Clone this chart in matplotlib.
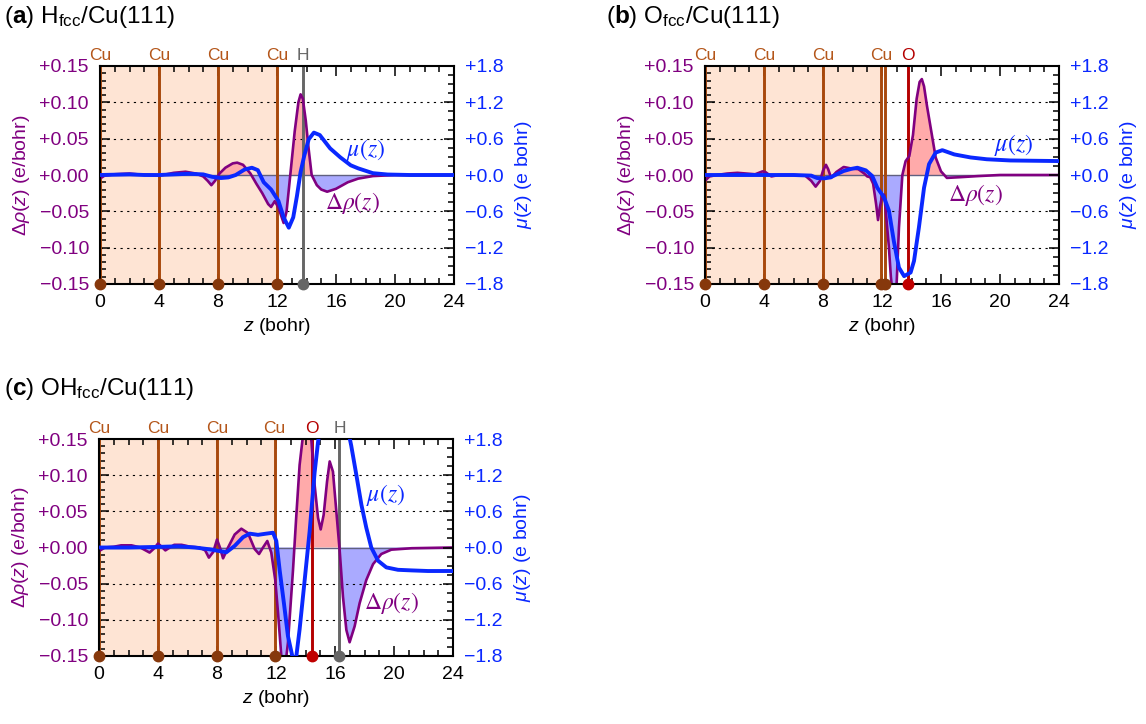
import matplotlib
matplotlib.use("Agg")
import matplotlib.pyplot as plt
import matplotlib.transforms as mtrans
from matplotlib.ticker import FixedLocator, MultipleLocator, FuncFormatter

plt.rcParams['font.family'] = ['Liberation Sans', 'DejaVu Sans']
plt.rcParams['mathtext.fontset'] = 'custom'
plt.rcParams['mathtext.rm'] = 'Liberation Sans'
plt.rcParams['mathtext.it'] = 'Liberation Sans:italic'
plt.rcParams['mathtext.bf'] = 'Liberation Sans:bold'
plt.rcParams['axes.unicode_minus'] = True

# ---- data ----
# (a) H_fcc/Cu(111)
zrho_a = [0, 0.3, 1, 2, 2.5, 3.5, 4, 4.5, 5, 5.8, 6.5, 7, 7.3, 7.55, 7.8, 8.1, 8.5, 9.0, 9.3, 9.7,
          10.2, 10.6, 11.0, 11.4, 11.6, 11.85, 12.1, 12.45, 12.65, 12.9, 13.2, 13.45, 13.6, 13.75,
          13.95, 14.15, 14.35, 14.7, 15.0, 15.4, 16.0, 16.8, 17.5, 18.5, 20, 24]
rho_a = [-0.005, -0.001, 0.001, 0.002, 0.001, 0.0, -0.001, 0.001, 0.003, 0.0045, 0.002, -0.002,
         -0.008, -0.014, -0.008, 0.002, 0.010, 0.016, 0.017, 0.014, 0.002, -0.012, -0.025, -0.040,
         -0.044, -0.036, -0.045, -0.066, -0.05, 0.0, 0.06, 0.100, 0.111, 0.105, 0.075, 0.035, 0.0,
         -0.014, -0.020, -0.023, -0.019, -0.010, -0.005, -0.0015, 0, 0]
zmu_a = [0, 1, 2, 3, 4, 5, 6, 7, 7.6, 8.2, 8.7, 9.2, 9.8, 10.3, 10.7, 11.1, 11.6, 12.1, 12.45, 12.8,
         13.1, 13.35, 13.6, 13.85, 14.15, 14.5, 14.9, 15.6, 16.3, 17.0, 17.5, 18.5, 19.5, 21, 24]
mu_a = [0, 0.005, 0.01, 0.0, 0.0, 0.01, 0.02, 0.01, -0.03, -0.05, -0.04, 0.0, 0.09, 0.12, 0.08,
        -0.12, -0.24, -0.43, -0.70, -0.87, -0.70, -0.35, 0.05, 0.32, 0.59, 0.70, 0.66, 0.44, 0.29,
        0.16, 0.11, 0.03, 0.008, 0, 0]
cu_a = [0, 4, 8, 12]
ads_a = [('H', 13.78)]

# (b) O_fcc/Cu(111)
zrho_b = [0, 0.3, 0.8, 1.5, 2.2, 2.8, 3.4, 3.9, 4.1, 4.5, 5.0, 6.0, 6.8, 7.2, 7.5, 7.8, 8.0, 8.2,
          8.35, 8.55, 8.9, 9.4, 9.9, 10.4, 10.8, 11.0, 11.2, 11.4, 11.6, 11.73, 11.85, 12.0, 12.15,
          12.3, 12.47, 12.6, 12.75, 12.95, 13.15, 13.38, 13.6, 13.85, 14.1, 14.35, 14.55, 14.7,
          14.85, 15.05, 15.3, 15.64, 16.0, 16.4, 17.3, 18.5, 20, 24]
rho_b = [-0.008, -0.002, 0.0, 0.002, 0.003, 0.002, 0.001, 0.005, 0.004, -0.002, 0.0, 0.0, -0.001,
         -0.008, -0.016, -0.008, 0.006, 0.014, 0.008, -0.004, 0.004, 0.011, 0.009, 0.008, 0.002,
         -0.002, -0.003, -0.012, -0.04, -0.062, -0.045, -0.03, -0.027, -0.06, -0.10, -0.14, -0.17,
         -0.17, -0.072, 0.0, 0.019, 0.026, 0.055, 0.105, 0.128, 0.132, 0.122, 0.095, 0.065, 0.024,
         0.005, -0.004, -0.003, -0.0015, 0, 0]
zmu_b = [0, 2, 4, 6, 7.2, 7.6, 8.1, 8.5, 9.0, 9.4, 9.9, 10.33, 10.9, 11.34, 11.68, 12.14, 12.47,
         12.8, 13.15, 13.5, 13.94, 14.17, 14.5, 14.85, 15.19, 15.64, 16.09, 16.9, 18.0, 19.1, 20.7, 24]
mu_b = [0, 0.0, 0.0, 0.0, -0.01, -0.05, -0.055, -0.04, 0.02, 0.066, 0.1, 0.12, 0.077, -0.017,
        -0.21, -0.37, -0.59, -1.09, -1.53, -1.67, -1.61, -1.42, -0.87, -0.21, 0.18, 0.37, 0.41,
        0.34, 0.29, 0.26, 0.24, 0.23]
cu_b = [0, 4, 8, 11.95, 12.2]
ads_b = [('O', 13.75)]

# (c) OH_fcc/Cu(111)
zrho_c = [0, 0.4, 1.0, 1.5, 2.2, 2.8, 3.43, 3.75, 4.0, 4.25, 4.5, 4.8, 5.1, 5.6, 6.2, 6.8, 7.2,
          7.45, 7.75, 8.0, 8.2, 8.41, 8.75, 9.2, 9.65, 10.1, 10.55, 10.85, 11.12, 11.41, 11.68,
          11.95, 12.14, 12.36, 12.59, 12.81, 13.15, 13.38, 13.6, 13.83, 14.06, 14.4, 14.62, 14.85,
          15.03, 15.23, 15.46, 15.64, 15.86, 16.09, 16.32, 16.54, 16.77, 16.99, 17.33, 17.67,
          18.12, 18.58, 19.14, 19.82, 21.2, 24]
rho_c = [-0.005, 0.0, 0.001, 0.003, 0.003, 0.0, -0.007, -0.001, 0.0055, 0.001, -0.004, 0.0, 0.0037,
         0.0037, 0.001, 0.0, -0.004, -0.014, -0.006, 0.011, 0.0, -0.015, 0.0, 0.018, 0.026, 0.02,
         -0.002, -0.009, 0.0, 0.009, -0.007, -0.045, -0.091, -0.15, -0.17, -0.132, -0.032, 0.045,
         0.114, 0.155, 0.17, 0.148, 0.086, 0.041, 0.025, 0.045, 0.091, 0.119, 0.105, 0.05, -0.005,
         -0.068, -0.114, -0.131, -0.109, -0.077, -0.045, -0.023, -0.009, -0.003, -0.001, 0]
zmu_c = [0, 2, 4, 5.4, 6.5, 7.5, 8.07, 8.63, 9.2, 9.76, 10.21, 10.78, 11.34, 11.8, 12.02, 12.25,
         12.54, 12.81, 13.15, 13.38, 13.6, 13.94, 14.28, 14.62, 14.85, 15.2, 15.8, 16.5, 17.1,
         17.45, 17.79, 18.12, 18.46, 18.92, 19.48, 20.27, 21.2, 22.3, 24]
mu_c = [0, 0.0, 0.01, 0.02, 0.0, -0.03, -0.055, -0.08, 0.027, 0.17, 0.23, 0.21, 0.23, 0.245, 0.11,
        -0.38, -0.93, -1.47, -1.85, -1.80, -1.36, -0.55, 0.27, 1.25, 1.75, 2.3, 2.6, 2.4, 1.69,
        1.2, 0.71, 0.33, 0.0, -0.22, -0.33, -0.37, -0.38, -0.39, -0.39]
cu_c = [0, 4, 8, 11.9]
ads_c = [('O', 14.45), ('H', 16.3)]

rho_ticks = [-0.15, -0.10, -0.05, 0.0, 0.05, 0.10, 0.15]
mu_ticks = [-1.8, -1.2, -0.6, 0.0, 0.6, 1.2, 1.8]
z_ticks = [0, 4, 8, 12, 16, 20, 24]

PURPLE = '#800080'
BLUE = '#0A28FF'
CU_LINE = '#A8480C'
CU_TEXT = '#B4561A'
CU_DOT = '#86380C'
ATOM_COL = {'H': ('#666666', '#666666', '#666666'), 'O': ('#B40000', '#B40000', '#C00000')}
FS = 14


def signed(nd):
    def f(v, pos):
        v = round(v, nd) + 0.0
        return f"{v:+.{nd}f}".replace('-', '\u2212')
    return f


W, H = 1146, 724
fig = plt.figure(figsize=(W / 100, H / 100), dpi=100)


def panel(box, title, title_xy, zr, rho, zm, mu, cu, ads, lab_mu, lab_rho):
    l, t, r, b = box
    ax = fig.add_axes([l / W, 1 - b / H, (r - l) / W, (b - t) / H])
    ax.set_xlim(0, 24)
    ax.set_ylim(-0.15, 0.15)

    ax.axvspan(0, cu[3], color='#FEE4D4', zorder=0, lw=0)
    ax.fill_between(zr, rho, 0, where=[v >= 0 for v in rho], interpolate=True,
                    color='#FFAAAA', lw=0, zorder=1)
    ax.fill_between(zr, rho, 0, where=[v <= 0 for v in rho], interpolate=True,
                    color='#AAAAFF', lw=0, zorder=1)
    ax.axhline(0, color='#606080', lw=1.0, zorder=1.5)
    for yv in [-0.10, -0.05, 0.05, 0.10]:
        ax.axhline(yv, color='black', lw=0.8, ls=(0, (2, 4)), zorder=1.5)

    trans = mtrans.blended_transform_factory(ax.transData, ax.transAxes)
    for zc in cu:
        ax.axvline(zc, color=CU_LINE, lw=2.1, zorder=2)
        ax.plot([zc], [-0.15], 'o', ms=7.5, color=CU_DOT, clip_on=False, zorder=6)
    for zc in cu[:4]:
        ax.text(zc, 1.015, 'Cu', color=CU_TEXT, fontsize=12.5, ha='center', va='bottom',
                transform=trans)
    for name, zc in ads:
        lc, tc, dc = ATOM_COL[name]
        ax.axvline(zc, color=lc, lw=2.1, zorder=2)
        ax.plot([zc], [-0.15], 'o', ms=7.5, color=dc, clip_on=False, zorder=6)
        ax.text(zc, 1.015, name, color=tc, fontsize=12.5, ha='center', va='bottom',
                transform=trans)

    ax.plot(zr, rho, color=PURPLE, lw=1.9, zorder=3)

    ax.xaxis.set_major_locator(FixedLocator(z_ticks))
    ax.xaxis.set_minor_locator(MultipleLocator(1))
    ax.yaxis.set_major_locator(FixedLocator(rho_ticks))
    ax.yaxis.set_minor_locator(MultipleLocator(0.01))
    ax.yaxis.set_major_formatter(FuncFormatter(signed(2)))
    ax.tick_params(which='both', direction='in', top=True, right=False, width=1.1)
    ax.tick_params(which='major', length=7, labelsize=FS)
    ax.tick_params(which='minor', length=4)
    ax.tick_params(axis='y', labelcolor=PURPLE, pad=8)
    ax.tick_params(axis='x', pad=7)
    for s in ax.spines.values():
        s.set_linewidth(1.5)
        s.set_zorder(5)
    ax.set_xlabel(r'$z$ (bohr)', fontsize=FS, labelpad=4)
    ax.set_ylabel(r'$\Delta\rho$($z$) (e/bohr)', fontsize=FS, color=PURPLE, labelpad=5)

    ax2 = ax.twinx()
    ax2.set_ylim(-1.8, 1.8)
    ax2.plot(zm, mu, color=BLUE, lw=2.8, zorder=4)
    ax2.yaxis.set_major_locator(FixedLocator(mu_ticks))
    ax2.yaxis.set_minor_locator(MultipleLocator(0.15))
    ax2.yaxis.set_major_formatter(FuncFormatter(signed(1)))
    ax2.tick_params(which='both', direction='in', width=1.1, color='black')
    ax2.tick_params(which='major', length=7, labelsize=FS, labelcolor=BLUE, pad=8)
    ax2.tick_params(which='minor', length=4)
    for s in ax2.spines.values():
        s.set_visible(False)
    ax2.set_ylabel(r'$\mu$($z$) (e bohr)', fontsize=FS, color=BLUE, labelpad=7)

    ax.text(lab_mu[0], lab_mu[1], r'$\mu(z)$', math_fontfamily='stix', fontsize=17,
            color=BLUE, ha='center', va='center', zorder=7)
    ax.text(lab_rho[0], lab_rho[1], r'$\Delta\rho(z)$', math_fontfamily='stix', fontsize=17,
            color=PURPLE, ha='center', va='center', zorder=7)

    fig.text(title_xy[0] / W, 1 - title_xy[1] / H, title, fontsize=17.5, ha='left', va='center')
    return ax


panel((100, 66, 454, 284), r'($\mathbf{a}$) H$_{\mathrm{fcc}}$/Cu(111)', (4, 17),
      zrho_a, rho_a, zmu_a, mu_a, cu_a, ads_a, (18.0, 0.035), (17.1, -0.038))
panel((705, 66, 1059, 284), r'($\mathbf{b}$) O$_{\mathrm{fcc}}$/Cu(111)', (606, 17),
      zrho_b, rho_b, zmu_b, mu_b, cu_b, ads_b, (20.9, 0.041), (18.3, -0.027))
panel((99, 439, 453, 656), r'($\mathbf{c}$) OH$_{\mathrm{fcc}}$/Cu(111)', (4, 389),
      zrho_c, rho_c, zmu_c, mu_c, cu_c, ads_c, (19.4, 0.073), (19.8, -0.077))

fig.savefig('out.png', dpi=100)
